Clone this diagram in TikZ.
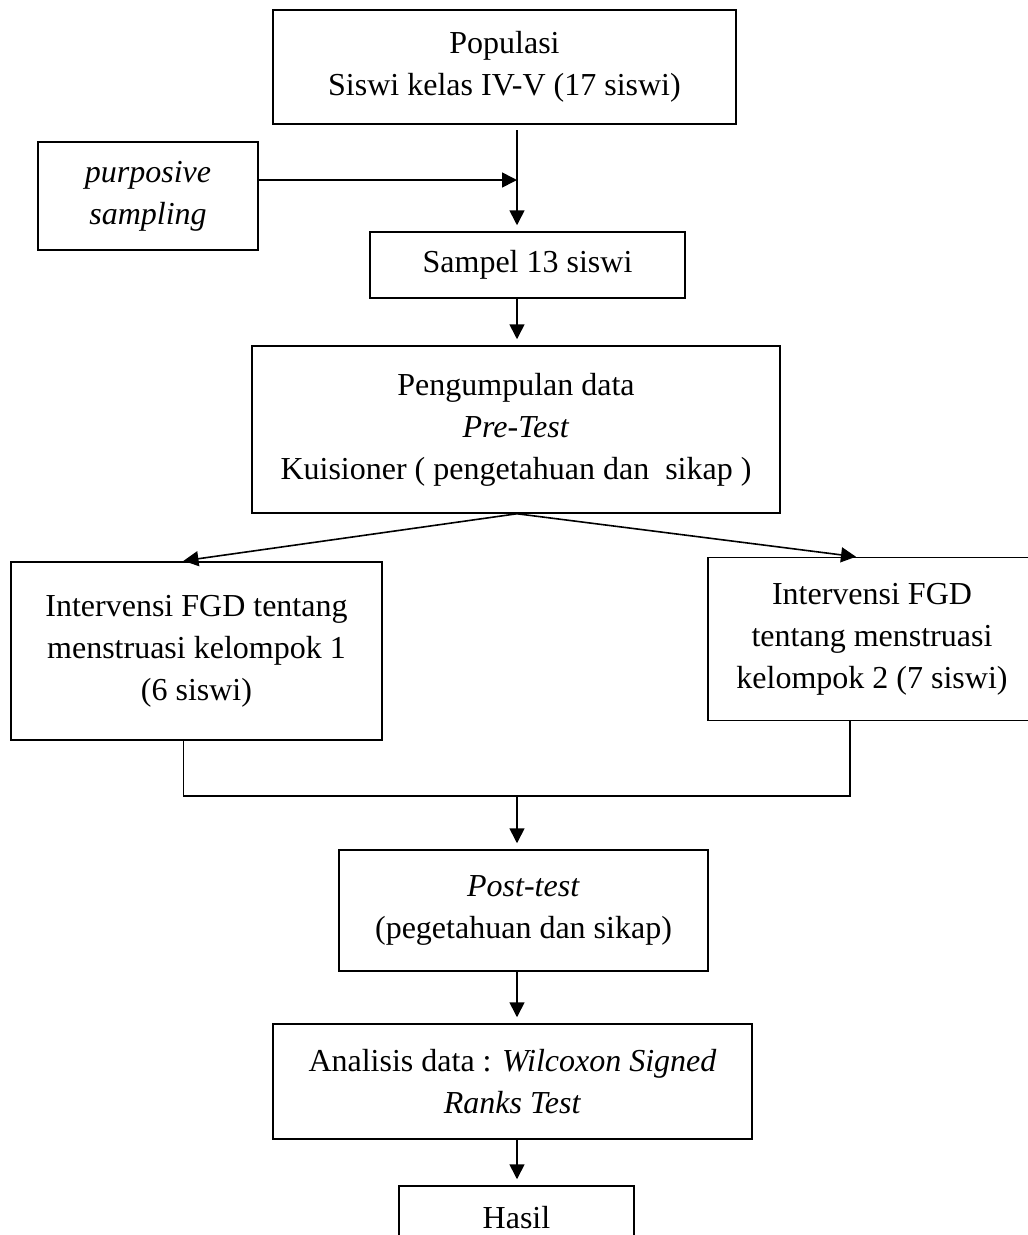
\documentclass[tikz,border=0pt]{standalone}
\usepackage{fontspec}
\setmainfont{Liberation Serif}
\usetikzlibrary{arrows.meta}

\begin{document}
\begin{tikzpicture}[x=1pt,y=-1pt,
		kotak/.style={draw,line width=1.5pt,align=center,inner sep=0pt,font=\fontsize{32}{42}\selectfont},
		panah/.style={line width=1.6pt,shorten >=6pt,-{Triangle[length=15pt,width=15pt]}},
		garis/.style={line width=1.6pt}]
		\useasboundingbox ( 0, 0 ) rectangle ( 1028, 1235 );
		\clip ( 0, 0 ) rectangle ( 1028, 1235 );

		% kotak alur penelitian
		\node [kotak,minimum width=463pt,minimum height=114pt] (pop) at ( 504.5, 67 ) {Populasi\\Siswi kelas IV-V (17 siswi)};
		\node [kotak,minimum width=220pt,minimum height=108pt] (purp) at ( 148, 196 ) {\textit{purposive}\\\textit{sampling}};
		\node [kotak,minimum width=315pt,minimum height=66pt] (samp) at ( 527.5, 265 ) {Sampel 13 siswi};
		\node [kotak,minimum width=528pt,minimum height=167pt] (peng) at ( 516, 429.5 ) {Pengumpulan data\\\textit{Pre-Test}\\Kuisioner ( pengetahuan dan~ sikap )};
		\node [kotak,minimum width=371pt,minimum height=178pt] (int1) at ( 196.5, 651 ) {Intervensi FGD tentang\\menstruasi kelompok 1\\(6 siswi)};
		\node [kotak,minimum width=328pt,minimum height=163pt] (int2) at ( 872, 639 ) {Intervensi FGD\\tentang menstruasi\\kelompok 2 (7 siswi)};
		\node [kotak,minimum width=369pt,minimum height=121pt] (post) at ( 523.5, 910.5 ) {\textit{Post-test}\\(pegetahuan dan sikap)};
		\node [kotak,minimum width=479pt,minimum height=115pt] (anal) at ( 512.5, 1081.5 ) {Analisis data : \textit{Wilcoxon Signed}\\\textit{Ranks Test}};
		\node [kotak,minimum width=235pt,minimum height=64pt] (hasil) at ( 516.5, 1218 ) {Hasil};

		% titik bantu
		\coordinate (sumbu) at ( 517, 130 );
		\coordinate (cabang) at ( 517, 180 );
		\coordinate (gabung) at ( 517, 796 );

		% panah
		\draw [panah] (sumbu) -- (sumbu |- samp.north);
		\draw [panah,shorten >=0pt] (purp.east |- cabang) -- (cabang);
		\draw [panah] (samp.south -| sumbu) -- (peng.north -| sumbu);
		\draw [panah,shorten >=3pt] (peng.south -| sumbu) -- ([xshift=-16pt]int1.north);
		\draw [panah,shorten >=0pt] (peng.south -| sumbu) -- ([xshift=-16pt]int2.north);
		\draw [garis] ([xshift=-13pt]int1.south) |- (gabung) -| ([xshift=-22pt]int2.south);
		\draw [panah] (gabung) -- (gabung |- post.north);
		\draw [panah] (post.south -| gabung) -- (anal.north -| gabung);
		\draw [panah] (anal.south -| gabung) -- (hasil.north -| gabung);
	\end{tikzpicture}
\end{document}
